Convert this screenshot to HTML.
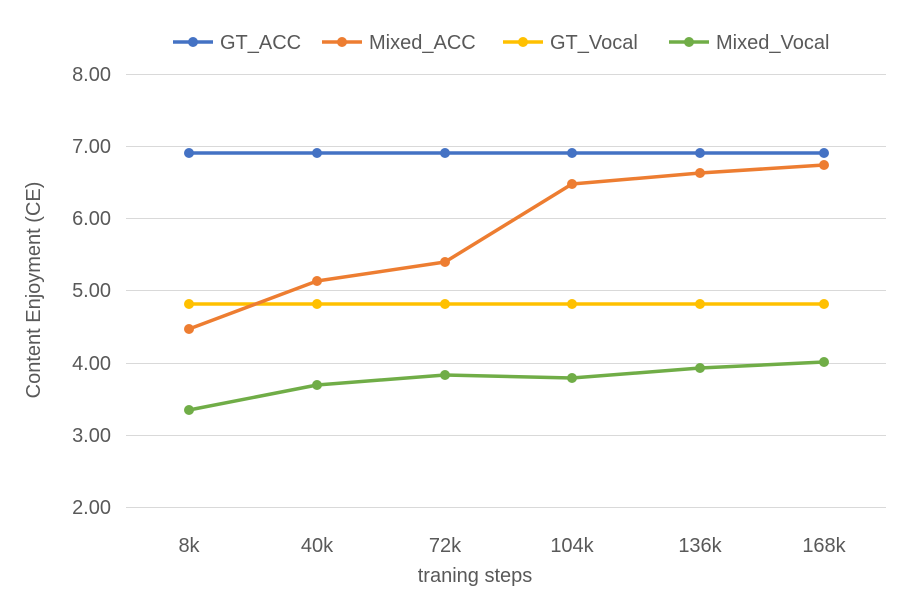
<!DOCTYPE html>
<html><head><meta charset="utf-8"><style>
html,body{margin:0;padding:0;background:#fff;}
svg{display:block;font-family:"Liberation Sans",sans-serif;}
</style></head><body>
<svg width="904" height="604" viewBox="0 0 904 604">
<g stroke="#d9d9d9" stroke-width="1">
<line x1="126" y1="74.5" x2="886" y2="74.5"/>
<line x1="126" y1="146.5" x2="886" y2="146.5"/>
<line x1="126" y1="218.5" x2="886" y2="218.5"/>
<line x1="126" y1="290.5" x2="886" y2="290.5"/>
<line x1="126" y1="363.5" x2="886" y2="363.5"/>
<line x1="126" y1="435.5" x2="886" y2="435.5"/>
<line x1="126" y1="507.5" x2="886" y2="507.5"/>
</g>
<g fill="#595959" font-size="20" text-anchor="end">
<text x="111" y="81">8.00</text>
<text x="111" y="153">7.00</text>
<text x="111" y="225">6.00</text>
<text x="111" y="297">5.00</text>
<text x="111" y="370">4.00</text>
<text x="111" y="442">3.00</text>
<text x="111" y="514">2.00</text>
</g>
<g fill="#595959" font-size="20" text-anchor="middle">
<text x="189" y="552">8k</text>
<text x="317" y="552">40k</text>
<text x="445" y="552">72k</text>
<text x="572" y="552">104k</text>
<text x="700" y="552">136k</text>
<text x="824" y="552">168k</text>
<text x="475" y="582">traning steps</text>
<text transform="translate(40,290) rotate(-90)">Content Enjoyment (CE)</text>
</g>
<g stroke-width="3.5" fill="none" stroke-linejoin="round">
<polyline stroke="#4472c4" points="189,153 317,153 445,153 572,153 700,153 824,153"/>
<polyline stroke="#ffc000" points="189,304 317,304 445,304 572,304 700,304 824,304"/>
<polyline stroke="#ed7d31" points="189,329 317,281 445,262 572,184 700,173 824,165"/>
<polyline stroke="#70ad47" points="189,410 317,385 445,375 572,378 700,368 824,362"/>
</g>
<g fill="#4472c4"><circle cx="189" cy="153" r="5"/><circle cx="317" cy="153" r="5"/><circle cx="445" cy="153" r="5"/><circle cx="572" cy="153" r="5"/><circle cx="700" cy="153" r="5"/><circle cx="824" cy="153" r="5"/></g>
<g fill="#ffc000"><circle cx="189" cy="304" r="5"/><circle cx="317" cy="304" r="5"/><circle cx="445" cy="304" r="5"/><circle cx="572" cy="304" r="5"/><circle cx="700" cy="304" r="5"/><circle cx="824" cy="304" r="5"/></g>
<g fill="#ed7d31"><circle cx="189" cy="329" r="5"/><circle cx="317" cy="281" r="5"/><circle cx="445" cy="262" r="5"/><circle cx="572" cy="184" r="5"/><circle cx="700" cy="173" r="5"/><circle cx="824" cy="165" r="5"/></g>
<g fill="#70ad47"><circle cx="189" cy="410" r="5"/><circle cx="317" cy="385" r="5"/><circle cx="445" cy="375" r="5"/><circle cx="572" cy="378" r="5"/><circle cx="700" cy="368" r="5"/><circle cx="824" cy="362" r="5"/></g>
<g font-size="20" fill="#595959">
<line x1="173" y1="42" x2="213" y2="42" stroke="#4472c4" stroke-width="3.5"/><circle cx="193" cy="42" r="5" fill="#4472c4"/>
<text x="220" y="49">GT_ACC</text>
<line x1="322" y1="42" x2="362" y2="42" stroke="#ed7d31" stroke-width="3.5"/><circle cx="342" cy="42" r="5" fill="#ed7d31"/>
<text x="369" y="49">Mixed_ACC</text>
<line x1="503" y1="42" x2="543" y2="42" stroke="#ffc000" stroke-width="3.5"/><circle cx="523" cy="42" r="5" fill="#ffc000"/>
<text x="550" y="49">GT_Vocal</text>
<line x1="669" y1="42" x2="709" y2="42" stroke="#70ad47" stroke-width="3.5"/><circle cx="689" cy="42" r="5" fill="#70ad47"/>
<text x="716" y="49">Mixed_Vocal</text>
</g>
</svg>
</body></html>
